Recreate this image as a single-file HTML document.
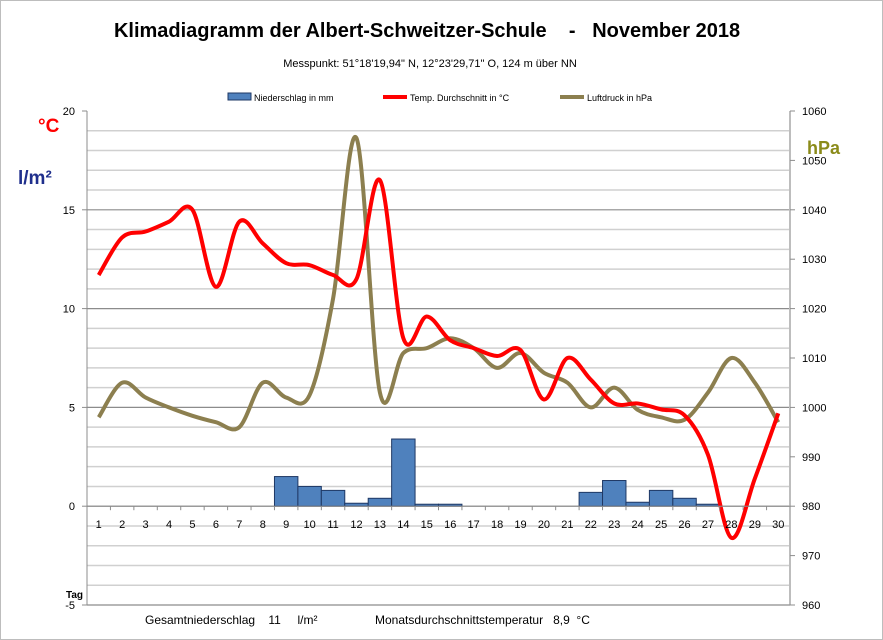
<!DOCTYPE html>
<html><head><meta charset="utf-8"><style>
body{margin:0;background:#fff;}
svg{display:block;font-family:"Liberation Sans",sans-serif;}
</style></head><body>
<svg id="c" width="883" height="640" viewBox="0 0 883 640">
<rect x="0.5" y="0.5" width="882" height="639" fill="#fff" stroke="#bdbdbd"/>
<text x="427" y="37" text-anchor="middle" font-size="20" font-weight="bold">Klimadiagramm der Albert-Schweitzer-Schule &#160;&#160; - &#160; November 2018</text>
<text x="430" y="67" text-anchor="middle" font-size="11">Messpunkt:  51°18'19,94" N,  12°23'29,71" O,  124 m über NN</text>
<g>
<g><rect x="228" y="93" width="23" height="7" fill="#4f81bd" stroke="#1f3864"/><text x="254" y="101" font-size="9">Niederschlag in mm</text></g>
<g><line x1="383" y1="97" x2="407" y2="97" stroke="#ff0000" stroke-width="4"/><text x="410" y="101" font-size="9">Temp. Durchschnitt in °C</text></g>
<g><line x1="560" y1="97" x2="584" y2="97" stroke="#8c7f4f" stroke-width="4"/><text x="587" y="101" font-size="9">Luftdruck in hPa</text></g>
</g>
<text x="38" y="132" font-size="19" font-weight="bold" fill="#ff0000">°C</text>
<text x="18" y="184" font-size="19" font-weight="bold" fill="#1f2f8c">l/m²</text>
<text x="807" y="154" font-size="18" font-weight="bold" fill="#8b8b1a">hPa</text>
<text x="66" y="598" font-size="10" font-weight="bold">Tag</text>
<text x="145" y="624" font-size="12">Gesamtniederschlag &#160;&#160; 11 &#160;&#160;&#160; l/m²</text>
<text x="375" y="624" font-size="12">Monatsdurchschnittstemperatur &#160; 8,9 &#160;°C</text>
<g id="grid"></g><g id="bars"></g><g id="lines"></g><g id="axes"></g>
</svg>
<script>
const days=[1,2,3,4,5,6,7,8,9,10,11,12,13,14,15,16,17,18,19,20,21,22,23,24,25,26,27,28,29,30];
const precip=[0,0,0,0,0,0,0,0,1.5,1.0,0.8,0.15,0.4,3.4,0.1,0.1,0,0,0,0,0,0.7,1.3,0.2,0.8,0.4,0.1,0,0,0];
const temp=[11.7,13.6,13.9,14.4,15.0,11.1,14.4,13.3,12.3,12.2,11.7,11.5,16.5,8.5,9.6,8.4,8.0,7.6,7.9,5.4,7.5,6.4,5.2,5.2,4.9,4.6,2.6,-1.6,1.4,4.7];
const pressure=[998,1005,1002,1000,998.3,997,996,1005,1002,1002.5,1022,1054.5,1003,1011,1012,1014,1012,1008,1011,1007,1005,1000,1004,999.5,998,997.5,1003,1010,1005,997];
const leftTicks=[-5,0,5,10,15,20];
const rightTicks=[960,970,980,990,1000,1010,1020,1030,1040,1050,1060];
const X0=87,X1=790,Y0=605,Y1=111,NS="http://www.w3.org/2000/svg";
const cw=(X1-X0)/days.length;
const xc=i=>X0+cw*(i+0.5);
const yL=v=>Y0-(v+5)/25*(Y0-Y1);
const yR=p=>Y0-(p-960)/100*(Y0-Y1);
function mk(t,a,parent){const e=document.createElementNS(NS,t);for(const k in a)e.setAttribute(k,a[k]);document.getElementById(parent).appendChild(e);return e;}
for(let v=-5;v<=19;v++){
 const e=mk('line',{x1:X0,x2:X1,y1:yL(v),y2:yL(v),stroke:v%5===0?'#8c8c8c':'#d0d0d0','stroke-width':v%5===0?1.2:1.5},'grid');
 
 
}
precip.forEach((v,i)=>{ if(v<=0)return;
 const e=mk('rect',{x:X0+cw*i,y:yL(v),width:cw,height:yL(0)-yL(v),fill:'#4f81bd',stroke:'#1f3864','stroke-width':1},'bars');
 
 
});
function smooth(pts){let d='M'+pts[0][0]+','+pts[0][1];
 for(let i=0;i<pts.length-1;i++){const p0=pts[Math.max(0,i-1)],p1=pts[i],p2=pts[i+1],p3=pts[Math.min(pts.length-1,i+2)];
  const c1=[p1[0]+(p2[0]-p0[0])/6,p1[1]+(p2[1]-p0[1])/6],c2=[p2[0]-(p3[0]-p1[0])/6,p2[1]-(p3[1]-p1[1])/6];
  d+=' C'+c1+' '+c2+' '+p2;}return d;}
const pl=mk('path',{d:smooth(pressure.map((p,i)=>[xc(i),yR(p)])),fill:'none',stroke:'#8c7f4f','stroke-width':4},'lines');


const tl=mk('path',{d:smooth(temp.map((t,i)=>[xc(i),yL(t)])),fill:'none',stroke:'#ff0000','stroke-width':4},'lines');


mk('line',{x1:X0,x2:X0,y1:Y1,y2:Y0,stroke:'#8c8c8c'},'axes');
mk('line',{x1:X1,x2:X1,y1:Y1,y2:Y0,stroke:'#bdbdbd','stroke-width':2},'axes');
mk('line',{x1:X0,x2:X1,y1:Y0,y2:Y0,stroke:'#8c8c8c'},'axes');
mk('line',{x1:X0,x2:X1,y1:yL(0),y2:yL(0),stroke:'#8c8c8c'},'axes');
leftTicks.forEach(v=>{
 mk('line',{x1:X0-5,x2:X0,y1:yL(v),y2:yL(v),stroke:'#8c8c8c'},'axes');
 const t=mk('text',{x:X0-12,y:yL(v)+4,'font-size':11,'text-anchor':'end'},'axes');t.textContent=v;
 
 
});
rightTicks.forEach(p=>{
 mk('line',{x1:X1,x2:X1+5,y1:yR(p),y2:yR(p),stroke:'#8c8c8c'},'axes');
 const t=mk('text',{x:X1+12,y:yR(p)+4,'font-size':11},'axes');t.textContent=p;
 
 
});
days.forEach((d,i)=>{
 mk('line',{x1:X0+cw*i,x2:X0+cw*i,y1:yL(0),y2:yL(0)+4,stroke:'#8c8c8c'},'axes');
 const t=mk('text',{x:xc(i),y:yL(0)+22,'font-size':11,'text-anchor':'middle'},'axes');t.textContent=d;
 
 
});
</script>
</body></html>
